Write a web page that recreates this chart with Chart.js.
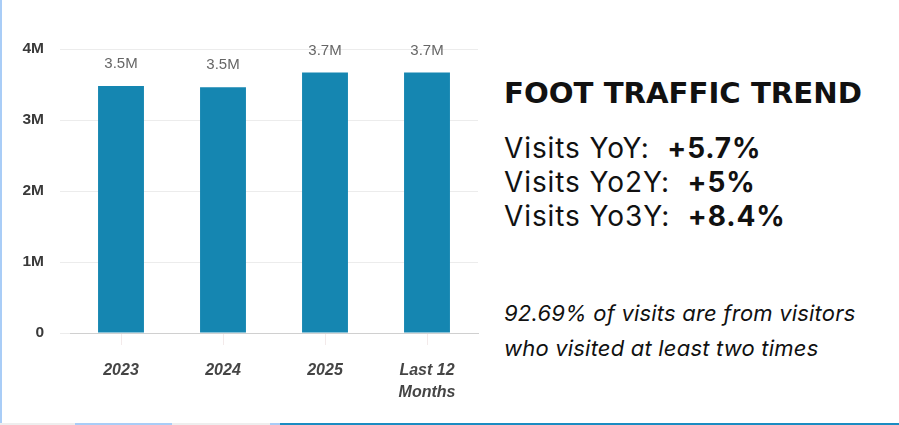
<!DOCTYPE html>
<html>
<head>
<meta charset="utf-8">
<script src="https://cdn.jsdelivr.net/npm/chart.js@4.4.1/dist/chart.umd.min.js"></script>
<style>
  html, body { margin: 0; padding: 0; background: #fff; }
  #page { position: relative; width: 899px; height: 425px; overflow: hidden; background: #fff; }
  #chartBox { position: absolute; left: 0; top: 0; width: 480px; height: 425px; }
  #leftEdge { position: absolute; left: 0; top: 0; width: 2px; height: 423px; background: #a9cdf7; }
  .strip { position: absolute; top: 423px; height: 2px; }
  #info { position: absolute; left: 504px; top: 0; font-family: Inter, "Open Sans", sans-serif; color: #111; }
  #info h2 { position: absolute; top: 76px; left: 0; margin: 0; font-family: "DejaVu Sans", sans-serif; font-size: 29.2px; font-weight: 700; white-space: nowrap; letter-spacing: 0; }
  .stat { position: absolute; left: 0; margin: 0; font-size: 28px; font-weight: 400; letter-spacing: 0.9px; white-space: nowrap; }
  .stat b { font-weight: 700; }
  .note { position: absolute; left: 0; margin: 0; font-size: 22px; font-style: italic; letter-spacing: 0.2px; white-space: nowrap; }
</style>
</head>
<body>
<div id="page">
  <div id="chartBox"><canvas id="c"></canvas></div>
  <div id="leftEdge"></div>
  <div class="strip" style="left:0;width:75px;background:#eeeeee"></div>
  <div class="strip" style="left:75px;width:97px;background:#a9cdf7"></div>
  <div class="strip" style="left:172px;width:98px;background:#eeeeee"></div>
  <div class="strip" style="left:270px;width:10px;background:#a9cdf7"></div>
  <div class="strip" style="left:280px;width:619px;background:#1a8cc2"></div>
  <div id="info"></div>
</div>
<script>
  const categories = ["2023", "2024", "2025", ["Last 12", "Months"]];
  const visits = [3.48, 3.46, 3.67, 3.67];          // millions
  const valueLabels = ["3.5M", "3.5M", "3.7M", "3.7M"];
  const yTicks = [0, 1, 2, 3, 4];
  const yTickLabels = ["0", "1M", "2M", "3M", "4M"];

  const heading = "FOOT TRAFFIC TREND";
  const statNames = ["Visits YoY:", "Visits Yo2Y:", "Visits Yo3Y:"];
  const statValues = ["+5.7%", "+5%", "+8.4%"];
  const noteLines = ["92.69% of visits are from visitors", "who visited at least two times"];

  // right-hand text panel
  const info = document.getElementById("info");
  let html = `<h2>${heading}</h2>`;
  statNames.forEach((s, i) => {
    html += `<p class="stat" style="top:${131 + i * 34}px">${s}&nbsp; <b>${statValues[i]}</b></p>`;
  });
  noteLines.forEach((t, i) => {
    html += `<p class="note" style="top:${300 + i * 35}px">${t}</p>`;
  });
  info.innerHTML = html;

  const barLabels = {
    id: "barLabels",
    afterDatasetsDraw(chart) {
      const { ctx } = chart;
      const meta = chart.getDatasetMeta(0);
      ctx.save();
      ctx.font = "15px 'Liberation Sans', Arial, sans-serif";
      ctx.fillStyle = "#666";
      ctx.textAlign = "center";
      ctx.textBaseline = "middle";
      meta.data.forEach((bar, i) => {
        ctx.fillText(valueLabels[i], bar.x, bar.y - 22);
      });
      ctx.restore();
    }
  };

  new Chart(document.getElementById("c"), {
    type: "bar",
    data: {
      labels: categories,
      datasets: [{
        data: visits,
        backgroundColor: "#1586b1",
        borderWidth: 0,
        barPercentage: 0.9,
        categoryPercentage: 0.5
      }]
    },
    options: {
      responsive: true,
      maintainAspectRatio: false,
      animation: false,
      layout: { padding: { top: 49, right: 2, left: 0, bottom: 0 } },
      plugins: { legend: { display: false }, tooltip: { enabled: false } },
      scales: {
        x: {
          afterFit: (s) => { s.height = 92; },
          grid: { offset: false, drawOnChartArea: false, drawTicks: true, tickLength: 12, color: "#f3eaea" },
          border: { display: true, color: "#d0d0d0", width: 1 },
          ticks: {
            color: "#454545",
            padding: 14,
            font: { family: "'Liberation Sans', Arial, sans-serif", size: 16, style: "italic", weight: "bold", lineHeight: 1.4 }
          }
        },
        y: {
          min: 0,
          max: 4,
          afterFit: (s) => { s.width = 70; },
          afterBuildTicks: (s) => { s.ticks = yTicks.map((v) => ({ value: v })); },
          grid: { color: "#ececec", tickLength: 10, drawTicks: true },
          border: { display: false },
          ticks: {
            color: "#3a3a3a",
            padding: 16,
            font: { family: "'Liberation Sans', Arial, sans-serif", size: 15.5, weight: "bold" },
            callback: (v) => yTickLabels[yTicks.indexOf(v)]
          }
        }
      }
    },
    plugins: [barLabels]
  });
</script>
</body>
</html>
